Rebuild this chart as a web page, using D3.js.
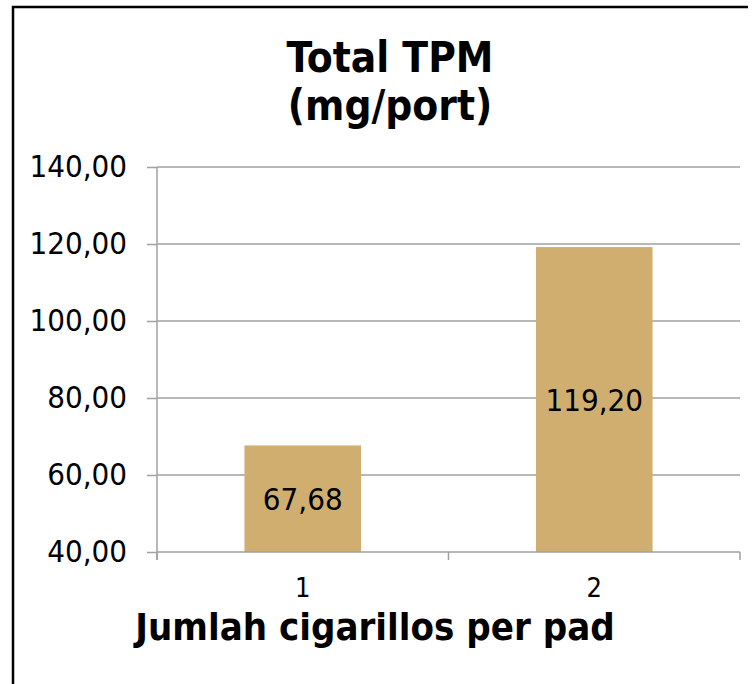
<!DOCTYPE html>
<html>
<head>
<meta charset="utf-8">
<script src="https://cdn.jsdelivr.net/npm/d3@7"></script>
<style>
  html, body { margin: 0; padding: 0; background: #fff; }
  svg { display: block; font-family: "DejaVu Sans Condensed", "DejaVu Sans", sans-serif; font-stretch: condensed; }
</style>
</head>
<body>
<svg id="chart" width="753" height="684"></svg>
<script>
(function () {

var categories = ["1", "2"];
var values = [67.68, 119.20];
var yTicks = [40, 60, 80, 100, 120, 140];
var title = ["Total TPM", "(mg/port)"];
var xTitle = "Jumlah cigarillos per pad";

var idLocale = d3.formatLocale({ decimal: ",", thousands: ".", grouping: [3], currency: ["", ""] });
var fmt = idLocale.format(".2f");

var svg = d3.select('#chart');
var plot = { left: 157, right: 740, top: 167, bottom: 552 };

// outer frame: only top and left edges are visible in the picture
svg.append('path')
	.attr('d', 'M13,684 L13,7 L748,7')
	.attr('fill', 'none')
	.attr('stroke', '#000')
	.attr('stroke-width', 2.5);

var y = d3.scaleLinear().domain([40, 140]).range([plot.bottom, plot.top]);
var x = d3.scaleBand().domain(categories).range([plot.left, plot.right]).padding(0);
var barW = x.bandwidth() * 0.4;

// gridlines
svg.append('g').selectAll('line')
	.data(yTicks.slice(1))
	.enter().append('line')
	.attr('x1', plot.left).attr('x2', plot.right)
	.attr('y1', function (d) { return y(d); })
	.attr('y2', function (d) { return y(d); })
	.attr('stroke', '#a0a0a0')
	.attr('stroke-width', 1.5);

// bars
svg.append('g').selectAll('rect')
	.data(values)
	.enter().append('rect')
	.attr('x', function (d, i) { return x(categories[i]) + (x.bandwidth() - barW) / 2; })
	.attr('y', function (d) { return y(d); })
	.attr('width', barW)
	.attr('height', function (d) { return y(40) - y(d); })
	.attr('fill', '#cfae70');

// y axis
var yAxis = svg.append('g')
	.attr('transform', 'translate(' + plot.left + ',0)')
	.call(d3.axisLeft(y).tickValues(yTicks).tickSize(10).tickPadding(20).tickFormat(fmt));
yAxis.selectAll('line, path').attr('stroke', '#a0a0a0').attr('stroke-width', 1.5);
yAxis.select('.domain').attr('d', 'M0,' + plot.top + 'V' + (plot.bottom + 8));
yAxis.attr('font-family', null).attr('font-size', 31);
yAxis.selectAll('text').attr('fill', '#000');

// x axis: ticks at band boundaries, labels at band centres
var xAxis = svg.append('g').attr('transform', 'translate(0,' + plot.bottom + ')');
xAxis.append('line')
	.attr('x1', plot.left).attr('x2', plot.right)
	.attr('stroke', '#a0a0a0').attr('stroke-width', 1.5);
var bounds = categories.map(function (c) { return x(c); }).concat([x(categories[categories.length - 1]) + x.step()]);
xAxis.selectAll('line.tick')
	.data(bounds)
	.enter().append('line')
	.attr('class', 'tick')
	.attr('x1', function (d) { return d; }).attr('x2', function (d) { return d; })
	.attr('y1', 0).attr('y2', 8)
	.attr('stroke', '#a0a0a0').attr('stroke-width', 1.5);
xAxis.selectAll('text')
	.data(categories)
	.enter().append('text')
	.attr('x', function (d) { return x(d) + x.bandwidth() / 2; })
	.attr('y', 45)
	.attr('text-anchor', 'middle')
	.attr('font-size', 27)
	.text(function (d) { return d; });

// data labels centred in each bar
svg.append('g').selectAll('text')
	.data(values)
	.enter().append('text')
	.attr('x', function (d, i) { return x(categories[i]) + x.bandwidth() / 2; })
	.attr('y', function (d) { return (y(d) + y(40)) / 2; })
	.attr('dy', '0.36em')
	.attr('text-anchor', 'middle')
	.attr('font-size', 31)
	.text(function (d) { return fmt(d); });

// titles
svg.append('g').selectAll('text')
	.data(title)
	.enter().append('text')
	.attr('x', 390)
	.attr('y', function (d, i) { return 72 + i * 48; })
	.attr('text-anchor', 'middle')
	.attr('font-size', 42)
	.attr('font-weight', 'bold')
	.text(function (d) { return d; });

svg.append('text')
	.attr('x', 375)
	.attr('y', 640)
	.attr('text-anchor', 'middle')
	.attr('font-size', 38)
	.attr('font-weight', 'bold')
	.text(xTitle);

})();
</script>
</body>
</html>
